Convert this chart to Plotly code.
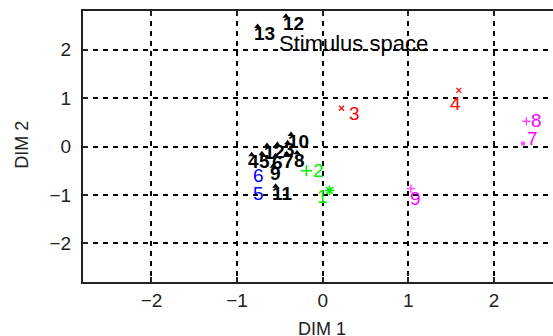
import plotly.graph_objects as go

# ---- data (DIM 1, DIM 2) ----
# coloured groups: marker positions and label positions
red_labels = ["3", "4"]
red_mx = [0.22, 1.59]
red_my = [0.79, 1.16]
red_lx = [0.29, 1.48]
red_ly = [0.68, 0.89]

mag_labels = ["8", "7", "9"]
mag_mx = [2.38, 2.34, 1.03]
mag_my = [0.52, 0.06, -0.87]
mag_sym = ["cross-thin", "circle", "cross-thin"]
mag_lx = [2.42, 2.37, 1.01]
mag_ly = [0.54, 0.17, -1.07]

green_labels = ["2", "1"]
green_mx = [-0.19, 0.08]
green_my = [-0.50, -0.91]
green_sym = ["cross-thin", "asterisk"]
green_lx = [-0.13, -0.08]
green_ly = [-0.50, -1.03]

blue_labels = ["6", "5"]
blue_lx = [-0.83, -0.83]
blue_ly = [-0.60, -0.97]

black_labels = ["1", "2", "3", "4", "5", "6", "7", "8", "9", "10", "11", "12", "13"]
black_lx = [-0.70, -0.58, -0.46, -0.88, -0.76, -0.60, -0.47, -0.35, -0.63, -0.42, -0.60, -0.48, -0.81]
black_ly = [-0.13, -0.11, -0.07, -0.32, -0.30, -0.34, -0.30, -0.28, -0.56, 0.10, -0.97, 2.54, 2.33]

title_text = "Stimulus space"
title_x, title_y = -0.52, 2.13

x_ticks = [-2, -1, 0, 1, 2]
y_ticks = [-2, -1, 0, 1, 2]

FONT = "Liberation Sans, Arial, sans-serif"

fig = go.Figure()

fig.add_trace(go.Scatter(x=red_mx, y=red_my, mode="markers",
                         marker=dict(symbol="x-thin", size=5, line=dict(color="#ff0000", width=1.2)),
                         showlegend=False, hoverinfo="skip"))
fig.add_trace(go.Scatter(x=mag_mx, y=mag_my, mode="markers",
                         marker=dict(symbol=mag_sym, size=[6, 3, 6], color="#ff00ff",
                                     line=dict(color="#ff00ff", width=1.5)),
                         showlegend=False, hoverinfo="skip"))
fig.add_trace(go.Scatter(x=green_mx, y=green_my, mode="markers",
                         marker=dict(symbol=green_sym, size=8,
                                     line=dict(color="#00ee00", width=1.5)),
                         showlegend=False, hoverinfo="skip"))
# black markers: small arrow heads sitting on the first digit of each black label
fig.add_trace(go.Scatter(x=[v + 0.05 for v in black_lx], y=[v + 0.15 for v in black_ly], mode="markers",
                         marker=dict(symbol="triangle-up", size=6, color="black"),
                         showlegend=False, hoverinfo="skip"))


def add_labels(labels, xs, ys, color, bold=False):
    for t, x, y in zip(labels, xs, ys):
        fig.add_annotation(x=x, y=y, xref="x", yref="y", text=f"<b>{t}</b>" if bold else t,
                           showarrow=False, xanchor="left", yanchor="middle", borderpad=0,
                           font=dict(family=FONT, size=19, color=color))


add_labels(red_labels, red_lx, red_ly, "#ff0000")
add_labels(mag_labels, mag_lx, mag_ly, "#ff00ff")
add_labels(green_labels, green_lx, green_ly, "#00ee00")
add_labels(blue_labels, blue_lx, blue_ly, "#0000ff")
add_labels(black_labels, black_lx, black_ly, "black", bold=True)

fig.add_annotation(x=title_x, y=title_y, xref="x", yref="y", text=title_text, showarrow=False,
                   xanchor="left", yanchor="middle", borderpad=0,
                   font=dict(family=FONT, size=22, color="black"))

# axis titles
fig.add_annotation(x=0.508, y=-0.175, xref="paper", yref="paper", text="DIM 1", showarrow=False,
                   xanchor="center", yanchor="middle", font=dict(family=FONT, size=18, color="#222"))
fig.add_annotation(x=-0.13, y=0.506, xref="paper", yref="paper", text="DIM 2", showarrow=False,
                   textangle=-90, xanchor="center", yanchor="middle",
                   font=dict(family=FONT, size=18, color="#222"))

axis_common = dict(showgrid=True, gridcolor="black", gridwidth=1.8, griddash="5px,5px",
                   zeroline=False, showline=True, linecolor="#222", linewidth=2,
                   ticks="inside", ticklen=5, tickcolor="#222", tickwidth=1.5,
                   tickfont=dict(family=FONT, size=19, color="#222"))

fig.update_xaxes(range=[-2.8, 2.69], tickvals=x_ticks, mirror="ticks", **axis_common)
fig.update_yaxes(range=[-2.8, 2.8], tickvals=y_ticks, mirror=False, ticklabelstandoff=6, **axis_common)

fig.update_layout(width=553, height=336, margin=dict(l=83, r=0, t=11, b=54),
                  plot_bgcolor="white", paper_bgcolor="white", showlegend=False)

fig.write_html("out.html")
